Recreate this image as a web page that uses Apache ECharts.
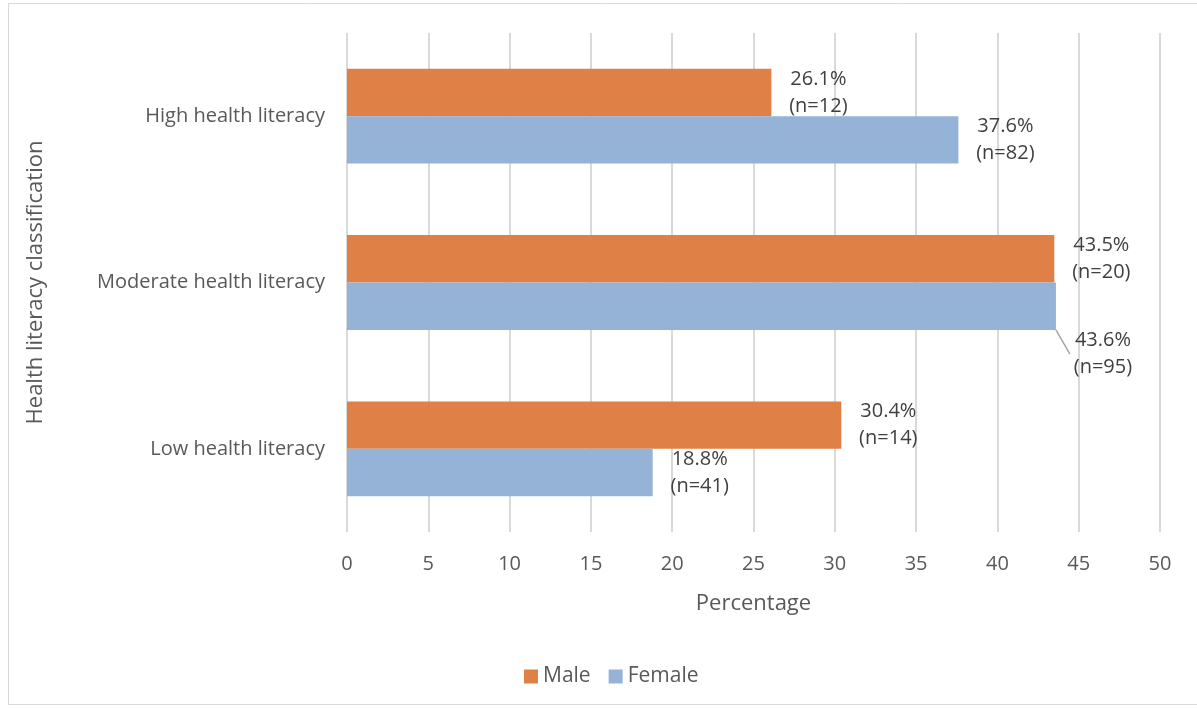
<!DOCTYPE html>
<html><head><meta charset="utf-8">
<script src="https://cdn.jsdelivr.net/npm/echarts@6/dist/echarts.min.js"></script>
<style>html,body{margin:0;padding:0;background:#fff}#c{width:1197px;height:708px}</style>
</head><body><div id="c"></div>
<script>
const categories = ['Low health literacy', 'Moderate health literacy', 'High health literacy'];
const maleValues = [30.4, 43.5, 26.1];
const femaleValues = [18.8, 43.6, 37.6];
const maleN = [14, 20, 12];
const femaleN = [41, 95, 82];
const xTicks = [0, 5, 10, 15, 20, 25, 30, 35, 40, 45, 50];

const font = '"Open Sans", sans-serif';
const txt = '#595959';
const chart = echarts.init(document.getElementById('c'));
function lab(nArr) {
  return {
    show: true, position: 'right', distance: 14,
    formatter: p => '{c|' + p.value.toFixed(1) + '%}\n{c|(n=' + nArr[p.dataIndex] + ')}',
    rich: { c: { width: 66, align: 'center', fontSize: 20, lineHeight: 27, color: '#404040', fontFamily: font } }
  };
}
const femaleData = femaleValues.map((v, i) => i === 1
  ? { value: v, labelLine: { show: true, lineStyle: { color: '#a6a6a6', width: 1.5 } } }
  : { value: v });
chart.setOption({
  animation: false,
  graphic: [{ type: 'rect', shape: { x: 8.5, y: 3.5, width: 1300, height: 701 }, style: { fill: 'none', stroke: '#d9d9d9', lineWidth: 1 } }],
  grid: { left: 347, right: 37, top: 33, bottom: 176 },
  legend: {
    data: ['Male', 'Female'], left: 519, top: 661, itemWidth: 14, itemHeight: 14, itemGap: 18,
    icon: 'rect', textStyle: { fontSize: 21, color: txt, fontFamily: font }
  },
  xAxis: {
    type: 'value', min: 0, max: 50, interval: 5,
    name: 'Percentage', nameLocation: 'middle', nameGap: 61,
    nameTextStyle: { fontSize: 22, color: txt, fontFamily: font },
    axisLine: { show: false }, axisTick: { show: false },
    axisLabel: { fontSize: 20, color: txt, fontFamily: font, margin: 22, formatter: v => xTicks.includes(v) ? String(v) : '' },
    splitLine: { lineStyle: { color: '#d9d9d9', width: 2 } }
  },
  yAxis: {
    type: 'category', data: categories,
    name: 'Health literacy classification', nameLocation: 'middle', nameGap: 300,
    nameTextStyle: { fontSize: 22, color: txt, fontFamily: font },
    axisLine: { show: false }, axisTick: { show: false },
    axisLabel: { fontSize: 20, color: txt, fontFamily: font, margin: 22 }
  },
  series: [
    {
      name: 'Male', type: 'bar', data: maleValues, barGap: '0%', barCategoryGap: '43%',
      itemStyle: { color: '#DF8047' }, label: lab(maleN)
    },
    {
      name: 'Female', type: 'bar', data: femaleData, barGap: '0%', barCategoryGap: '43%',
      itemStyle: { color: '#95B3D6' }, label: lab(femaleN),
      labelLayout: p => p.dataIndex === 1 ? { dx: 0, dy: 48 } : {}
    }
  ]
});
</script></body></html>
